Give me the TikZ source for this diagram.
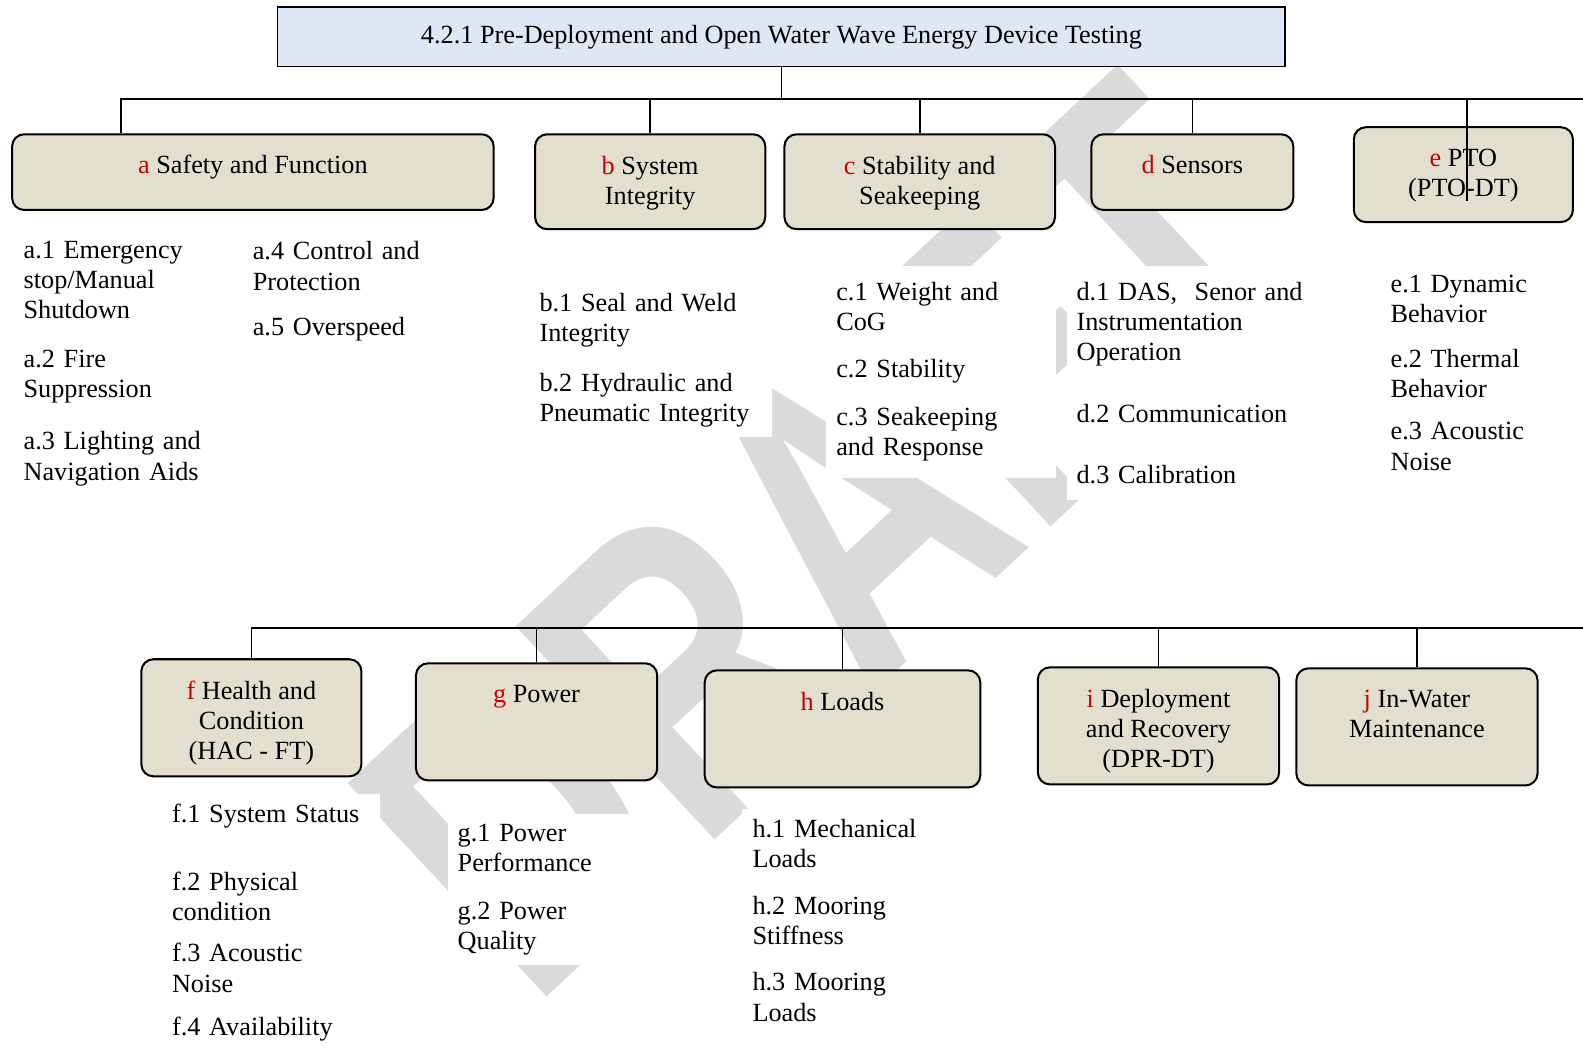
\documentclass[tikz,border=0pt]{standalone}
\usepackage{fontspec}
\setmainfont{Liberation Serif}
\newfontfamily\wmfont{Liberation Sans}
\usetikzlibrary{positioning,fit,calc}
\pgfdeclarelayer{bg}
\pgfsetlayers{bg,main}
\definecolor{titleblue}{RGB}{222,231,243}
\definecolor{boxtan}{RGB}{226,223,206}
\definecolor{tagred}{RGB}{200,0,0}
\definecolor{wmgray}{RGB}{218,218,218}
\newcommand{\boxtag}[1]{\textcolor{tagred}{#1}}

\begin{document}
\begin{tikzpicture}[
x = 0.5pt, y = -0.5pt,
every node/.style = {
	font = \fontsize{13}{15}\selectfont,
	align=center
},
header/.style = {
	draw,
	line width = 0.8pt,
	fill = titleblue,
	inner sep = 0pt
},
group/.style = {
	draw,
	line width = 1pt,
	rounded corners = 6pt,
	fill = boxtan,
	inner sep = 0pt
},
grouptext/.style = {
	inner sep = 0pt
},
items/.style = {
	anchor = north west,
	align = left,
	fill = white,
	inner sep = 5pt
},
conn/.style = {
	line width = 0.8pt
}
]

\useasboundingbox (0,0) rectangle (1568,1043);

\begin{pgfonlayer}{bg}
\node (wm) [rotate=43, xscale=0.75, text=wmgray, font=\wmfont\bfseries\fontsize{210}{210}\selectfont] at (818,532) {DRAFT};
\end{pgfonlayer}

% item lists
\node (alist) [items, text width=90pt] at (13,228) {a.1 Emergency\\stop/Manual\\Shutdown\\[9pt]a.2 Fire\\Suppression\\[11pt]a.3 Lighting and\\Navigation Aids};
\node (alist2) [items, text width=85pt] at (240,229) {a.4 Control and\\Protection\\[7.5pt]a.5 Overspeed};
\node (blist) [items, text width=110pt] at (524,280) {b.1 Seal and Weld\\Integrity\\[9.5pt]b.2 Hydraulic and\\Pneumatic Integrity};
\node (clist) [items, text width=104pt, inner ysep=8pt] at (818,263) {c.1 Weight and\\CoG\\[8pt]c.2 Stability\\[9pt]c.3 Seakeeping\\and Response};
\node (dlist) [items, text width=115pt, inner ysep=8pt] at (1056,263) {d.1 DAS,\ \ Senor and\\Instrumentation\\Operation\\[15.5pt]d.2 Communication\\[15pt]d.3 Calibration};
\node (elist) [items, text width=85pt] at (1367,262) {e.1 Dynamic\\Behavior\\[7pt]e.2 Thermal\\Behavior\\[6pt]e.3 Acoustic\\Noise};
\node (flist) [items, text width=98pt] at (160,786) {f.1 System Status\\[18.5pt]f.2 Physical\\condition\\[5.5pt]f.3 Acoustic\\Noise\\[6.5pt]f.4 Availability};
\node (glist) [items, text width=98pt] at (443,806) {g.1 Power\\Performance\\[8.5pt]g.2 Power\\Quality};
\node (hlist) [items, text width=85pt] at (735,801) {h.1 Mechanical\\Loads\\[8pt]h.2 Mooring\\Stiffness\\[8pt]h.3 Mooring\\Loads};

% top row
\node (title) [header, fit={(275,7) (1273,66)}] {};
\node (title-t) [grouptext, below=9pt of title.north] {4.2.1 Pre-Deployment and Open Water Wave Energy Device Testing};

\node (sf) [group, fit={(12,133) (489,208)}] {};
\node (sf-t) [grouptext, below=10.5pt of sf.north] {\boxtag{a} Safety and Function};

\node (si) [group, fit={(530,133) (758,227)}] {};
\node (si-t) [grouptext, below=11pt of si.north] {\boxtag{b} System\\Integrity};

\node (ss) [group, fit={(777,133) (1045,227)}] {};
\node (ss-t) [grouptext, below=11pt of ss.north] {\boxtag{c} Stability and\\Seakeeping};

\node (sn) [group, fit={(1081,133) (1281,208)}] {};
\node (sn-t) [grouptext, below=10.5pt of sn.north] {\boxtag{d} Sensors};

\node (pto) [group, fit={(1341,126) (1558,220)}] {};
\node (pto-t) [grouptext, below=11pt of pto.north] {\boxtag{e} PTO\\(PTO-DT)};

\coordinate (tb) at (title.south |- 0,98);
\draw[conn] (title.south) -- (tb) -| ([xshift=54.5pt]sf.north west);
\draw[conn] (tb) -- (1568,98);
\draw[conn] (tb -| si.north) -- (si.north);
\draw[conn] (tb -| ss.north) -- (ss.north);
\draw[conn] (tb -| sn.north) -- (sn.north);
\draw[conn] ([xshift=1.75pt]tb -| pto.north) -- ([xshift=1.75pt, yshift=-37pt]pto.north);

% bottom row
\node (hc) [group, fit={(140,653) (358,769)}] {};
\node (hc-t) [grouptext, below=11pt of hc.north] {\boxtag{f} Health and\\Condition\\(HAC - FT)};

\node (pw) [group, fit={(412,657) (651,773)}] {};
\node (pw-t) [grouptext, below=11pt of pw.north] {\boxtag{g} Power};

\node (ld) [group, fit={(698,664) (971,780)}] {};
\node (ld-t) [grouptext, below=11pt of ld.north] {\boxtag{h} Loads};

\node (dr) [group, fit={(1028,661) (1267,777)}] {};
\node (dr-t) [grouptext, below=11pt of dr.north] {\boxtag{i} Deployment\\and Recovery\\(DPR-DT)};

\node (iw) [group, fit={(1284,662) (1523,778)}] {};
\node (iw-t) [grouptext, below=11pt of iw.north] {\boxtag{j} In-Water\\Maintenance};

\coordinate (bb) at (hc.north |- 0,622);
\draw[conn] (bb) -- (1568,622);
\draw[conn] (bb) -- (hc.north);
\draw[conn] (bb -| pw.north) -- (pw.north);
\draw[conn] (bb -| ld.north) -- (ld.north);
\draw[conn] (bb -| dr.north) -- (dr.north);
\draw[conn] (bb -| iw.north) -- (iw.north);

\end{tikzpicture}
\end{document}
